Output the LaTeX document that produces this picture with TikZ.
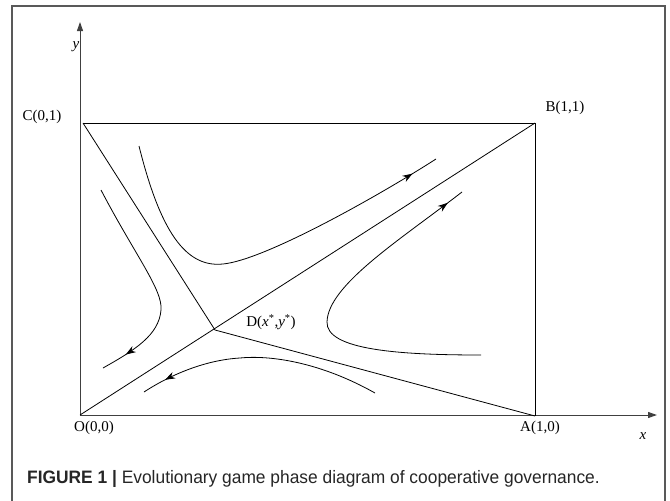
\documentclass[tikz,border=0pt]{standalone}
\usepackage{fontspec}
\setmainfont{Liberation Serif}
\newfontfamily\capfont{Liberation Sans}
\usetikzlibrary{arrows.meta,decorations.markings}
\begin{document}
\begin{tikzpicture}[x=1pt,y=-1pt,
  plotline/.style={line width=0.8pt,black},
  axisline/.style={line width=1pt,black!75,-{Triangle[length=9pt,width=6pt]}},
  lbl/.style={font=\fontsize{15}{15}\selectfont,inner sep=0pt},
  flow/.style={plotline,postaction={decorate},decoration={markings,mark=at position #1 with {\arrow{Stealth[length=10pt,width=7pt]}}}}
]
\useasboundingbox (0,0) rectangle (670,501);
% outer frame
\draw[line width=1.6pt,black!65] (12,501) -- (12,6) -- (665,6) -- (665,501);
% key points
\coordinate (O) at (80,415);
\coordinate (A) at (535,416);
\coordinate (B) at (535,123);
\coordinate (C) at (83,123);
\coordinate (D) at (215,330);
\coordinate (xend) at (657,415);
\coordinate (yend) at (80,22);
% axes
\draw[axisline] (O) -- (xend);
\draw[axisline] (O) -- (yend);
% rectangle and lines
\draw[plotline] (C) -- (B) -- (A);
\draw[plotline] (O) -- (B);
\draw[plotline] (C) -- (D) -- (A);
% trajectories
\draw[flow=0.93] (139,146) .. controls (160,230) and (185,268) .. (223,264)
      .. controls (265,260) and (380,195) .. (436,159);
\draw[flow=0.88] (101,190) .. controls (135,255) and (163,290) .. (161,310)
      .. controls (159,335) and (135,350) .. (103,368);
\draw[flow=0.95] (481,355) .. controls (400,355) and (326,350) .. (327,322)
      .. controls (328,285) and (400,240) .. (462,192);
\draw[flow=0.9] (375,393) .. controls (320,362) and (270,355) .. (240,358)
      .. controls (205,360) and (170,375) .. (144,392);
% labels
\node[lbl] (lC) at (42,117) {C(0,1)};
\node[lbl] (lB) at (565,108) {B(1,1)};
\node[lbl] (lO) at (94,428) {O(0,0)};
\node[lbl] (lA) at (540,428) {A(1,0)};
\node[lbl] (lx) at (643,436) {\textit{x}};
\node[lbl] (ly) at (76,47) {\textit{y}};
\node[lbl] (lD) at (271,322) {D(\textit{x}\textsuperscript{*},\textit{y}\textsuperscript{*})};
% caption
\node[anchor=base west,inner sep=0pt,font=\capfont\fontsize{18}{18}\selectfont,text=black!85] (cap) at (27,483)
  {\scalebox{0.965}[1]{\textbf{FIGURE 1 |} Evolutionary game phase diagram of cooperative governance.}};
\end{tikzpicture}
\end{document}
